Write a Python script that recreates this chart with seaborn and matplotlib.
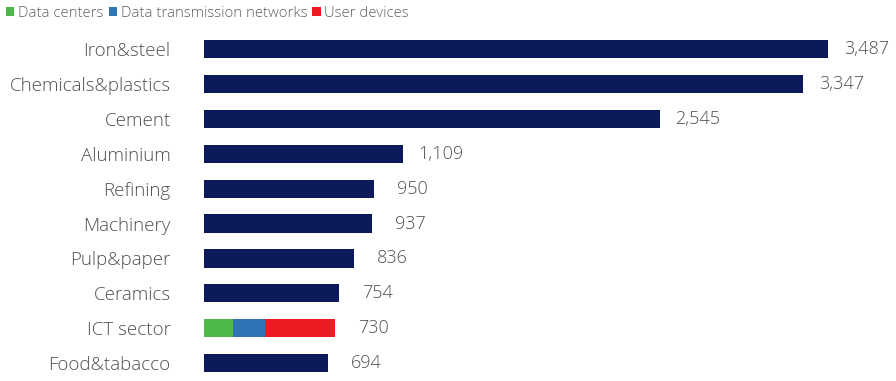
import matplotlib
matplotlib.use("Agg")
import matplotlib.pyplot as plt
from matplotlib.patches import Patch
import seaborn as sns
import pandas as pd
import numpy as np

categories = ["Iron&steel", "Chemicals&plastics", "Cement", "Aluminium", "Refining",
              "Machinery", "Pulp&paper", "Ceramics", "ICT sector", "Food&tabacco"]
values = [3487, 3347, 2545, 1109, 950, 937, 836, 754, 730, 694]
ict_parts = ["Data centers", "Data transmission networks", "User devices"]
ict_values = [162, 179, 389]
ict_colors = ["#4DB848", "#2E75B6", "#ED1C24"]
navy = "#0C1A5B"

sns.set_theme(style="white")
plt.rcParams['font.family'] = ['Open Sans', 'DejaVu Sans']
plt.rcParams['font.weight'] = 'light'

df = pd.DataFrame({"category": categories, "value": values})
df["plot_value"] = [np.nan if c == "ICT sector" else v for c, v in zip(categories, values)]

fig = plt.figure(figsize=(8.96, 3.81), dpi=100)
ax = fig.add_axes([0.2277, 0.001, 0.7723, 0.916])

sns.barplot(data=df, y="category", x="plot_value", color=navy, orient="h",
            width=0.52, ax=ax, order=categories, saturation=1, linewidth=0,
            edgecolor="none")

ict_idx = categories.index("ICT sector")
left = 0
for v, c in zip(ict_values, ict_colors):
    ax.barh(ict_idx, v, left=left, height=0.52, color=c, edgecolor="none", linewidth=0)
    left += v

for i, v in enumerate(values):
    ax.text(v + 215, i, f"{v:,}", va="center", ha="center", fontsize=13,
            color="#505050", fontweight="light")

ax.set_xlim(0, 3866)
ax.set_ylim(9.5, -0.5)
ax.set_xlabel("")
ax.set_ylabel("")
ax.set_xticks([])
ax.tick_params(axis="y", length=0, pad=24, labelsize=13.5, labelcolor="#505050")
for lab in ax.get_yticklabels():
    lab.set_fontweight("light")
for s in ax.spines.values():
    s.set_visible(False)

handles = [Patch(facecolor=c, edgecolor="none") for c in ict_colors]
fig.legend(handles, ict_parts, loc="upper left", bbox_to_anchor=(-0.008, 1.02), ncol=3,
           frameon=False, handlelength=0.55, handleheight=0.55,
           handletextpad=0.25, columnspacing=0.35, labelcolor="#606060",
           prop={"weight": "light", "size": 10.7})

fig.savefig("out.png", dpi=100)
